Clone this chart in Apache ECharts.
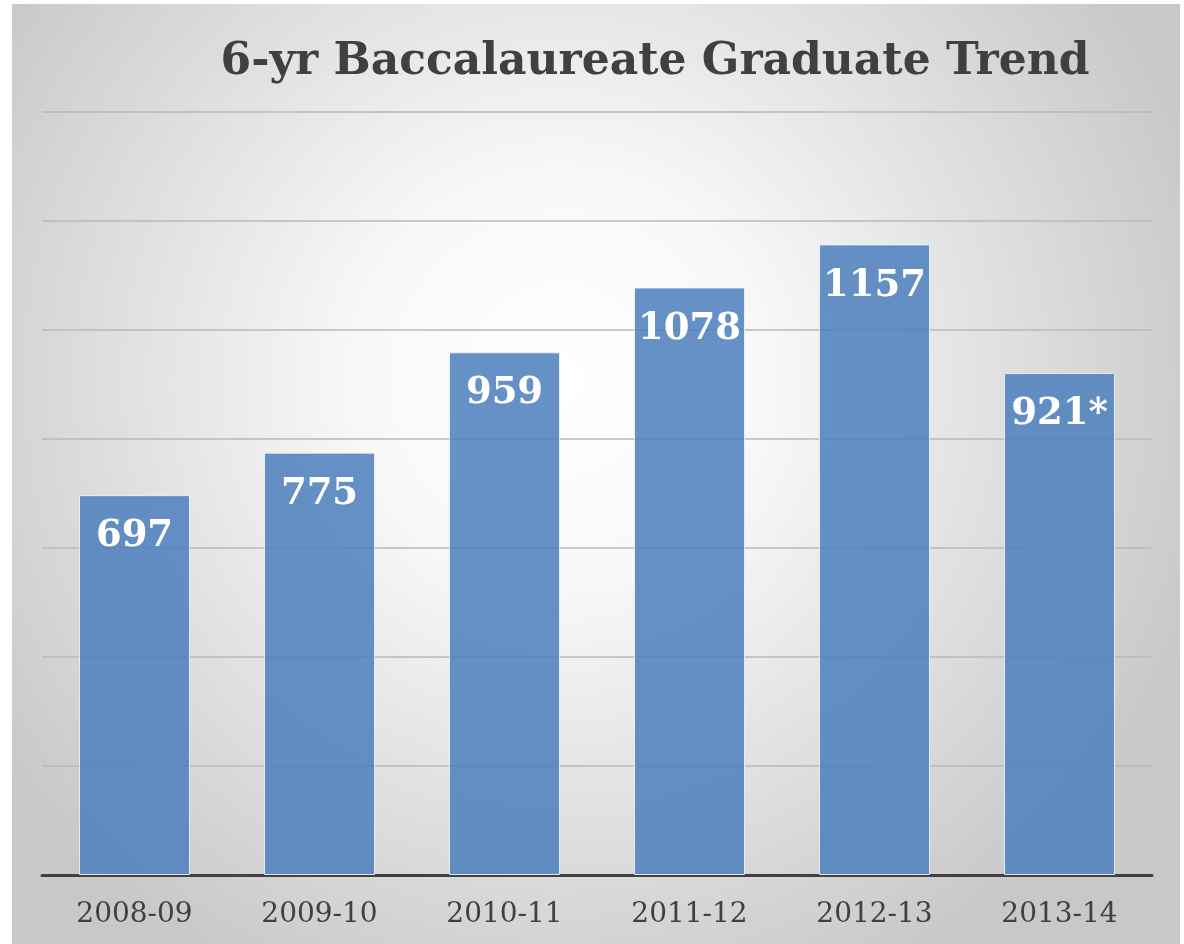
<!DOCTYPE html>
<html>
<head>
<meta charset="utf-8">
<script src="https://cdn.jsdelivr.net/npm/echarts@6/dist/echarts.min.js"></script>
<style>
html,body{margin:0;padding:0;background:#fff;}
#chart{width:1184px;height:944px;}
</style>
</head>
<body>
<div id="chart"></div>
<script>
const categories = ['2008-09','2009-10','2010-11','2011-12','2012-13','2013-14'];
const values = [697, 775, 959, 1078, 1157, 921];
const valueLabels = ['697','775','959','1078','1157','921*'];
const titleText = '6-yr Baccalaureate Graduate Trend';

const chart = echarts.init(document.getElementById('chart'));
const serif = "Georgia, 'DejaVu Serif', serif";
chart.setOption({
  animation: false,
  graphic: [{
    type: 'rect', z: -10, silent: true,
    shape: {x: 12, y: 4, width: 1168, height: 940},
    style: {
      fill: new echarts.graphic.RadialGradient(0.47, 0.4, 0.72, [
        {offset: 0, color: '#ffffff'},
        {offset: 0.3, color: '#f8f8f8'},
        {offset: 1, color: '#c8c8c8'}
      ])
    }
  }],
  title: {
    text: titleText, left: 650, textAlign: 'center', top: 36,
    textStyle: {fontFamily: serif, fontWeight: 'bold', fontSize: 44, color: '#404040'}
  },
  grid: {left: 42, right: 32, top: 112, bottom: 69, containLabel: false},
  xAxis: {
    type: 'category', data: categories,
    axisLine: {lineStyle: {color: '#404040', width: 3}},
    axisTick: {show: false},
    axisLabel: {fontFamily: serif, fontSize: 28, color: '#404040', margin: 26}
  },
  yAxis: {
    type: 'value', min: 0, max: 1400, interval: 200,
    axisLabel: {show: false}, axisLine: {show: false}, axisTick: {show: false},
    splitLine: {lineStyle: {color: '#b8b8b8', width: 1.5}}
  },
  series: [{
    type: 'bar', data: values, barWidth: '60%',
    itemStyle: {color: 'rgba(79,129,189,0.87)', borderColor: 'rgba(235,242,250,0.9)', borderWidth: 1},
    label: {
      show: true, position: 'insideTop', distance: 23,
      formatter: p => valueLabels[p.dataIndex],
      fontFamily: serif, fontWeight: 'bold', fontSize: 37, color: '#ffffff'
    }
  }]
});
</script>
</body>
</html>
